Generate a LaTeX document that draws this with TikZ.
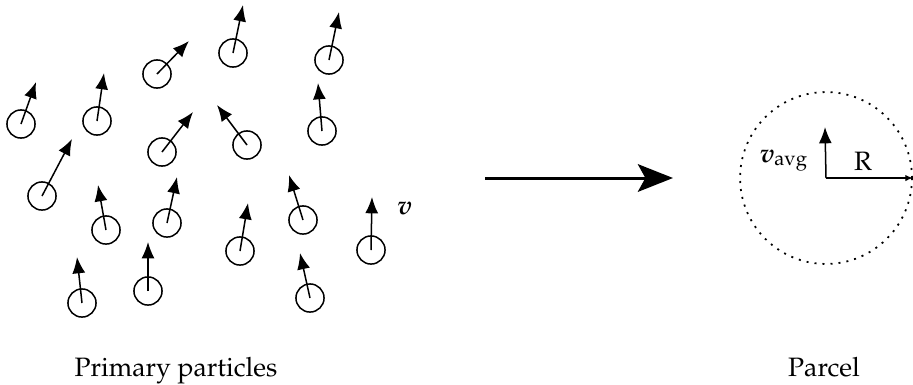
\documentclass[tikz,border=0pt]{standalone}
\usepackage[T1]{fontenc}
\usepackage{mathpazo}
\usepackage{amsmath,bm}
\usetikzlibrary{arrows.meta}

\tikzset{
  particle/.style={circle,draw,line width=0.6pt,minimum size=11.2pt,inner sep=0pt},
  velo/.style={line width=0.6pt,-{Latex[length=6.5pt,width=5.2pt]}},
  lbl/.style={font=\fontsize{10.6pt}{12pt}\selectfont,inner sep=0pt},
}

\begin{document}
\begin{tikzpicture}[x=0.014cm,y=-0.014cm]
  \useasboundingbox (0,0) rectangle (913,384);
  % primary particles: centre and tip of the velocity arrow
  \foreach \cx/\cy/\tx/\ty [count=\i] in {21/124/36/82, 97/121/104/73, 157/74/189/41,
      162/152/193/112, 42/196/72/139, 233/53/243/5, 329/60/339/12, 247/145/217/105,
      322/131/318/83, 106/230/98/185, 167/223/177/177, 82/303/77/257, 148/291/148/242,
      240/251/248/203, 303/220/289/175, 371/250/372/197, 310/298/300/253}{
    \node[particle] (p\i) at (\cx,\cy) {};
    \coordinate (t\i) at (\tx,\ty);
    \draw[velo] (p\i.center) -- (t\i);
  }
  \node[lbl] (v) at (405,209) {$\bm{v}$};
  % lumping arrow
  \coordinate (from) at (485,178);
  \coordinate (to) at (673,178);
  \draw[line width=1.2pt,-{Stealth[length=14pt,width=11pt,inset=3pt]}] (from) -- (to);
  % the parcel
  \node[circle,draw,line width=0.7pt,dash pattern=on 0.8pt off 2.4pt,
        minimum size=68.5pt,inner sep=0pt] (parcel) at (826,178) {};
  \coordinate (vavg) at (825,127);
  \draw[velo] (parcel.center) -- (vavg);
  \draw[line width=0.5pt,-{Latex[length=3pt,width=2.6pt]}] (parcel.center) -- (parcel.east);
  \node[lbl,anchor=base] (R) at (863,170) {R};
  \node[lbl,anchor=base] (avg) at (784,162) {$\bm{v}_{\text{avg}}$};
  \node[lbl,anchor=base] (prim) at (176,376) {Primary particles};
  \node[lbl,anchor=base] (parc) at (824,376) {Parcel};
\end{tikzpicture}
\end{document}
